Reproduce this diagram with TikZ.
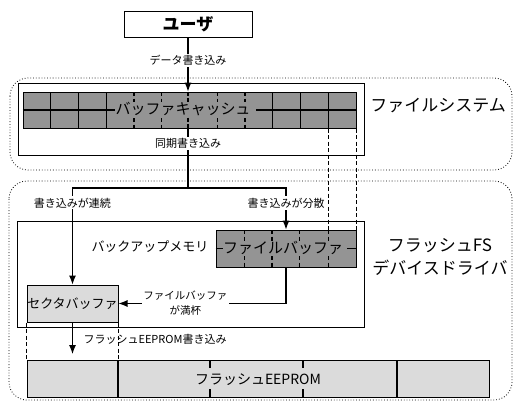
\documentclass[tikz,border=0pt]{standalone}
\usepackage{fontspec}
\setmainfont{Noto Sans CJK JP}
\usetikzlibrary{arrows.meta}
\tikzset{
  ln/.style={line width=1.1pt},
  arr/.style={line width=1.1pt,-{Latex[length=9pt,width=7pt]}},
  box/.style={draw,line width=1pt,inner sep=0pt},
  dark/.style={box,fill=black!42},
  light/.style={box,fill=black!14},
  dsh/.style={line width=0.9pt,dash pattern=on 4pt off 2.5pt},
  dots/.style={line width=0.8pt,dotted,rounded corners=18pt},
  lbl/.style={fill=white,inner sep=1.5pt,font=\fontsize{11pt}{13pt}\selectfont},
  big/.style={font=\fontsize{17pt}{23pt}\selectfont,align=center},
  intxt/.style={fill=black!42,inner sep=0.5pt,font=\fontsize{15pt}{17pt}\selectfont},
}
\begin{document}
\begin{tikzpicture}[x=1pt,y=-1pt]
\useasboundingbox (0,0) rectangle (515,402);
% dotted groups
\draw[dots] (10,78) rectangle (512,170);
\draw[dots] (9,181) rectangle (512,400);
% boxes
\node[box,minimum width=128pt,minimum height=26pt,font=\fontsize{17pt}{20pt}\selectfont\bfseries] (user) at (188,24) {ユーザ};
\node[box,minimum width=346pt,minimum height=72pt] (fsbox) at (191,119) {};
\node[dark,minimum width=333pt,minimum height=36pt] (bar) at (189.5,110) {};
\node[box,minimum width=347pt,minimum height=106pt] (bkbox) at (190.5,274) {};
\node[dark,minimum width=140pt,minimum height=37pt] (fbuf) at (286,248.5) {};
\node[light,minimum width=91pt,minimum height=37pt,font=\fontsize{13pt}{15pt}\selectfont] (sector) at (72.5,303.5) {セクタバッファ};
\node[light,minimum width=462pt,minimum height=37pt] (eeprom) at (258,378.5) {};
% bar grid
\foreach \i in {1,2,3,9,10,11} \draw[ln] ({23+27.75*\i},92) -- ({23+27.75*\i},128);
\foreach \i in {4,5,7,8} \draw[dsh,line width=1.1pt] ({23+27.75*\i},92) -- ({23+27.75*\i},128);
\draw[ln] (bar.west) -- (115,110);
\draw[ln] (256,110) -- (bar.east);
% file buffer grid
\foreach \x in {244.25,272,299.75,328.25} \draw[dsh,line width=1.1pt] (\x,230) -- (\x,267);
\draw[ln] (fbuf.west) -- ++(7,0);
\draw[ln] (fbuf.east) -- ++(-10,0);
% eeprom dividers
\draw[ln] (118,360) -- (118,397);
\draw[ln] (397,360) -- (397,397);
\foreach \x in {210,303} {\draw[ln] (\x,360) -- (\x,368); \draw[ln] (\x,389) -- (\x,397);}
\node[font=\fontsize{14pt}{16pt}\selectfont] (eetxt) at (258,380) {フラッシュEEPROM};
% connectors
\coordinate (split) at (188,188);
\draw[arr] (user.south) -- (user.south |- bar.north) node[lbl,pos=0.42] {データ書き込み};
\draw[dsh,line width=1.1pt] (user.south |- bar.north) -- (user.south |- bar.south);
\draw[ln] (user.south |- bar.south) -- (split) node[lbl,pos=0.25] {同期書き込み};
\draw[arr] (split) -| (sector.north) node[lbl,pos=0.577] {書き込みが連続};
\draw[arr] (split) -| (fbuf.north) node[lbl,pos=0.68] {書き込みが分散};
\draw[dsh] (bar.south -| 328.25,0) -- (fbuf.north -| 328.25,0);
\draw[dsh] (bar.south east) -- (fbuf.north east);
\draw[arr] (fbuf.south) |- (sector.east) node[lbl,pos=0.8,align=center,font=\fontsize{10.5pt}{15pt}\selectfont] {ファイルバッファ\\が満杯};
\draw[dsh,line width=1.1pt] (sector.south west) -- (sector.south west |- eeprom.north);
\draw[dsh] (sector.south east) -- (sector.south east |- eeprom.north);
\coordinate (wtip) at (72.5,354);
\draw[arr] (sector.south) -- (wtip);
\node[anchor=west,font=\fontsize{11pt}{13pt}\selectfont] (wlbl) at (80,339) {フラッシュEEPROM書き込み};
% texts inside dark bars
\node[intxt] (bartxt) at (183,109) {バッファキャッシュ};
\node[intxt] (fbtxt) at (283,248) {ファイルバッファ};
% side labels
\node[big] (fslbl) at (438,106) {ファイルシステム};
\node[font=\fontsize{13pt}{15pt}\selectfont] (bklbl) at (150,247) {バックアップメモリ};
\node[big] (drvlbl) at (440,257) {フラッシュFS\\デバイスドライバ};
\end{tikzpicture}
\end{document}
